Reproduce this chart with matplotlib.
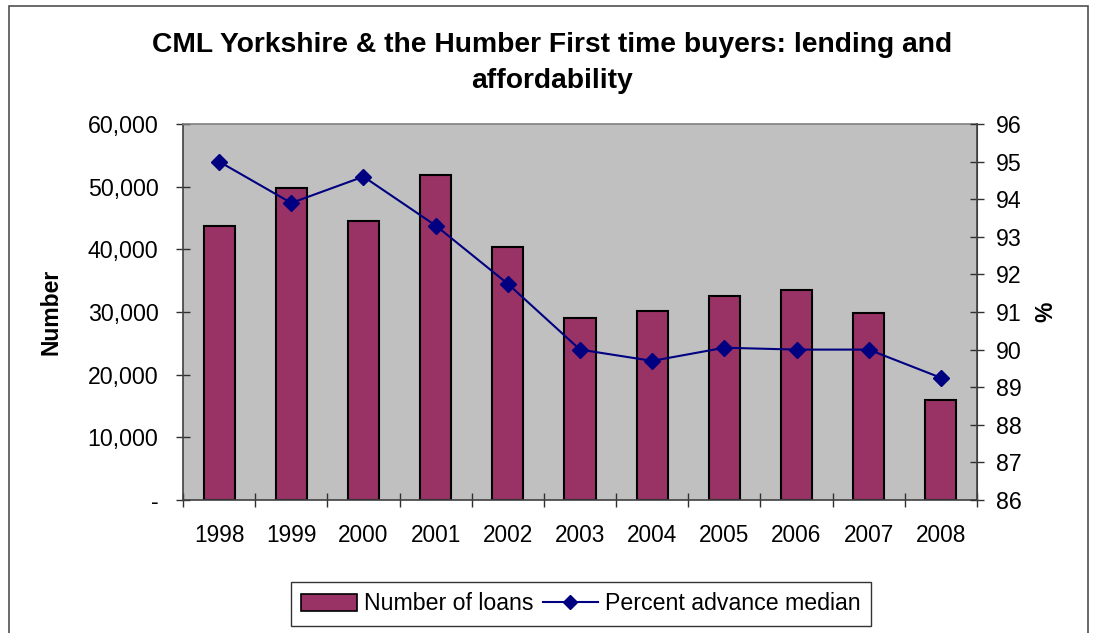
import numpy as np
import matplotlib
matplotlib.use("Agg")
from matplotlib import pyplot as plt
from matplotlib.patches import Rectangle
from matplotlib.lines import Line2D
from matplotlib.ticker import FuncFormatter

years = ["1998", "1999", "2000", "2001", "2002", "2003", "2004", "2005", "2006", "2007", "2008"]
loans = [43800, 49800, 44500, 51800, 40400, 29100, 30100, 32500, 33500, 29800, 15900]
advance = [95.0, 93.9, 94.6, 93.3, 91.75, 90.0, 89.7, 90.05, 90.0, 90.0, 89.25]

plt.rcParams['font.family'] = ['Liberation Sans', 'DejaVu Sans']

W, H = 1093, 633
fig = plt.figure(figsize=(W / 100, H / 100), dpi=100)

# outer chart border
fig.patches.append(Rectangle((9 / W, -0.01), (1088 - 9) / W, 1.01 - 6 / H,
                             transform=fig.transFigure, fill=False,
                             edgecolor='#505050', linewidth=1.2))

left, right, top, bottom = 183, 977, 124, 500
ax = fig.add_axes([left / W, 1 - bottom / H, (right - left) / W, (bottom - top) / H])
ax.set_facecolor('#C0C0C0')

x = np.arange(len(years))
ax.bar(x, loans, width=0.43, color='#993366', edgecolor='black', linewidth=1.5, zorder=2)
ax.set_xlim(-0.5, len(years) - 0.5)
ax.set_ylim(0, 60000)
ax.set_yticks(np.arange(0, 60001, 10000))
ax.yaxis.set_major_formatter(FuncFormatter(lambda v, p: '-' if v == 0 else f'{int(v):,}'))

ax.set_xticks(x)
ax.set_xticklabels(years)
ax.set_xticks(np.arange(-0.5, len(years)), minor=True)
ax.tick_params(axis='x', which='major', length=0, pad=17.5, labelsize=16.3)
ax.tick_params(axis='x', which='minor', direction='inout', length=9.5, width=1, color='#303030')
ax.tick_params(axis='y', direction='inout', length=9.5, width=1, color='#303030', labelsize=16.7, pad=13)

for s in ['left', 'bottom']:
    ax.spines[s].set_color('#404040')
    ax.spines[s].set_linewidth(1.2)
ax.spines['top'].set_color('#808080')
ax.spines['top'].set_linewidth(1.2)
ax.spines['right'].set_color('#404040')

ax.set_ylabel('Number', fontsize=16.5, fontweight='bold', labelpad=18)

ax2 = ax.twinx()
ax2.plot(x, advance, color='#000080', linewidth=1.5, marker='D', markersize=8,
         markerfacecolor='#000080', markeredgecolor='#000080', zorder=3)
ax2.set_ylim(86, 96)
ax2.set_yticks(np.arange(86, 97, 1))
ax2.tick_params(axis='y', direction='inout', length=9.5, width=1, color='#303030', labelsize=16.7, pad=9)
ax2.spines['right'].set_color('#404040')
ax2.spines['right'].set_linewidth(1.2)
ax2.spines['top'].set_visible(False)
ax2.spines['left'].set_visible(False)
ax2.spines['bottom'].set_visible(False)
ax2.set_ylabel('%', fontsize=16.5, fontweight='bold', labelpad=9)

fig.text(552 / W, 1 - 63 / H, 'CML Yorkshire & the Humber First time buyers: lending and\naffordability',
         ha='center', va='center', fontsize=20.3, fontweight='bold', linespacing=1.45)

handles = [Rectangle((0, 0), 1, 1, facecolor='#993366', edgecolor='black', linewidth=1.2),
           Line2D([], [], color='#000080', linewidth=1.5, marker='D', markersize=7,
                  markerfacecolor='#000080')]
leg = fig.legend(handles, ['Number of loans', 'Percent advance median'],
                 loc='center', bbox_to_anchor=(581 / W, 1 - 604 / H), ncol=2,
                 fontsize=16.7, frameon=True, fancybox=False, edgecolor='black',
                 handlelength=2.4, handletextpad=0.3, columnspacing=0.4,
                 borderpad=0.45)
leg.get_frame().set_linewidth(1)

fig.savefig('out.png', dpi=100)
